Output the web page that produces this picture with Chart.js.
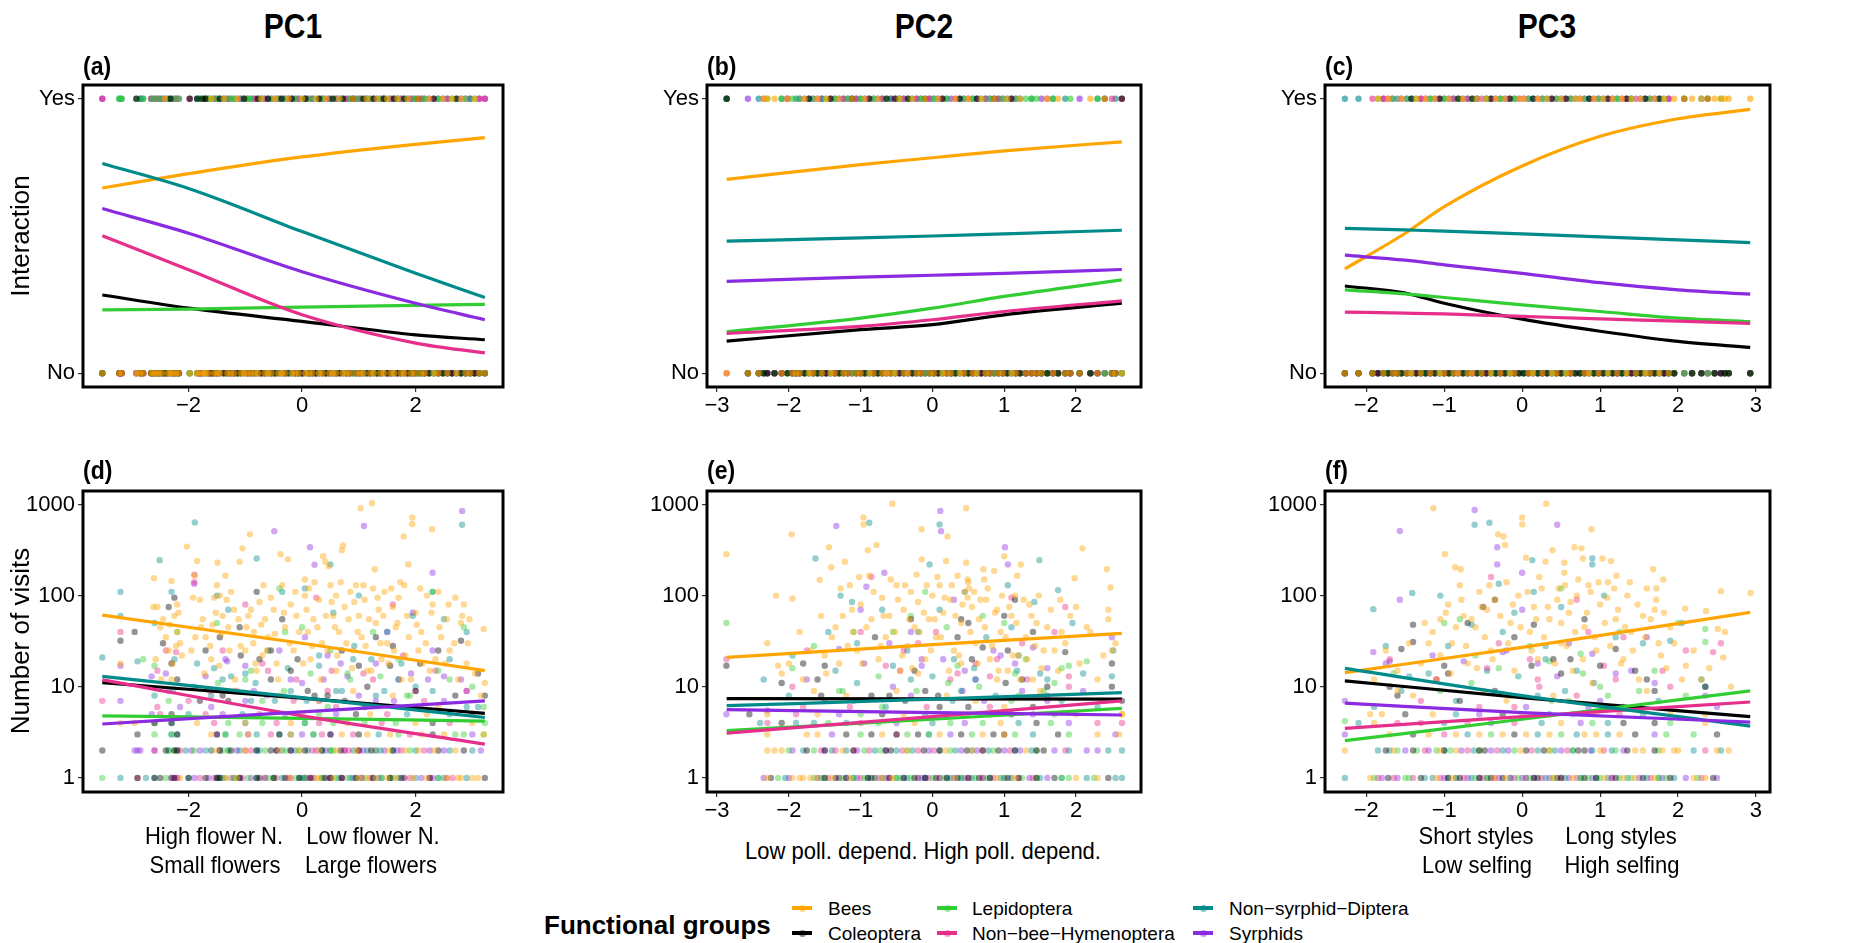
<!DOCTYPE html>
<html><head><meta charset="utf-8">
<script src="https://cdn.jsdelivr.net/npm/chart.js@4.4.1/dist/chart.umd.min.js"></script>
<style>
body{margin:0;width:1854px;height:943px;background:#fff;position:relative;overflow:hidden;font-family:"Liberation Sans",Arial,sans-serif;}
canvas{position:absolute;}
.t{position:absolute;white-space:nowrap;color:#000;line-height:1;}
.c{transform:translate(-50%,-50%);}
.l{transform:translate(0,-50%);}
.b{font-weight:bold;}
.key{position:absolute;height:4px;width:20px;}
.dot{position:absolute;width:7px;height:7px;border-radius:50%;}
</style></head><body>
<canvas id="ca"></canvas><canvas id="cb"></canvas><canvas id="cc"></canvas>
<canvas id="cd"></canvas><canvas id="ce"></canvas><canvas id="cf"></canvas>
<script>
// ---------------- DATA ----------------
const GROUPS = ["Bees","Coleoptera","Lepidoptera","Non\u2212bee\u2212Hymenoptera","Non\u2212syrphid\u2212Diptera","Syrphids"];
const COLORS = ["#FFA500","#000000","#32CD32","#E62E8B","#008B8B","#8A2BE2"];
const TITLES = ["PC1","PC2","PC3"];
const LETTERS = ["(a)","(b)","(c)","(d)","(e)","(f)"];
const xTicksPC1 = [-2,0,2];
const xTicksPC2 = [-3,-2,-1,0,1,2];
const xTicksPC3 = [-2,-1,0,1,2,3];
const yTicksTop = [0,1];
const yTickLabelsTop = ["No","Yes"];
const yTicksBottom = [1,10,100,1000];

// fitted curves (probability of interaction)
const curveXa = [-3.52,-2,0,2,3.22];
const linesA = [
 [0.675,0.727,0.788,0.834,0.858],
 [0.285,0.237,0.189,0.140,0.122],
 [0.231,0.234,0.241,0.247,0.251],
 [0.501,0.377,0.213,0.110,0.074],
 [0.764,0.673,0.516,0.364,0.276],
 [0.600,0.510,0.370,0.255,0.195]];
const curveXb = [-2.866,-1,0,1,2.638];
const linesB = [
 [0.706,0.760,0.785,0.810,0.843],
 [0.117,0.159,0.177,0.213,0.255],
 [0.151,0.201,0.237,0.280,0.340],
 [0.145,0.171,0.195,0.225,0.264],
 [0.481,0.493,0.500,0.508,0.521],
 [0.335,0.350,0.357,0.364,0.378]];
const curveXc = [-2.275,-1.5,-1,0,1,2,2.926];
const linesC = [
 [0.380,0.510,0.607,0.755,0.863,0.927,0.961],
 [0.318,0.292,0.255,0.197,0.153,0.116,0.094],
 [0.304,0.289,0.276,0.249,0.225,0.201,0.188],
 [0.223,0.219,0.216,0.207,0.198,0.190,0.182],
 [0.528,0.522,0.518,0.508,0.497,0.486,0.476],
 [0.430,0.412,0.395,0.364,0.330,0.304,0.288]];
// fitted lines (number of visits)
const curveXd = [-3.52,0,3.22];
const linesD = [[61,30,15],[11.1,7.5,5.1],[4.8,4.5,4.2],[11.9,4.8,2.35],[13,7.6,4.6],[3.9,5.3,7.0]];
const curveXe = [-2.866,0,2.638];
const linesE = [[21,29,38.6],[7.4,7.35,7.3],[3.3,4.4,5.8],[3.1,4.7,7.0],[6.2,7.3,8.6],[5.6,5.2,4.9]];
const curveXf = [-2.275,0,2.926];
const linesF = [[14.3,27,65.6],[11.6,7.6,4.7],[2.56,4.4,9.0],[3.5,4.7,6.8],[15.9,8.0,3.7],[6.6,5.2,4.1]];

// top rows: [x, groups with interaction "Yes"]; remaining groups are "No"
const topA = [[-3.52,"35"],[-3.22,"24"],[-3.18,"42"],[-2.92,"12"],[-2.85,"54"],[-2.8,"24"],[-2.66,"34"],[-2.62,"24"],[-2.57,"53"],[-2.52,"52"],[-2.47,"45"],[-2.42,"03"],[-2.37,"24"],[-2.32,"51"],[-2.27,"42"],[-2.22,"35"],[-2.17,"52"],[-1.98,"31"],[-1.85,"14"],[-1.8,"24"],[-1.75,"12"],[-1.7,"413"],[-1.65,"24"],[-1.6,"02"],[-1.55,"35"],[-1.5,"24"],[-1.45,"14"],[-1.38,"025"],[-1.32,"43"],[-1.26,"52"],[-1.2,"24"],[-1.14,"03"],[-1.08,"45"],[-1.02,"123"],[-0.96,"52"],[-0.9,"24"],[-0.84,"35"],[-0.78,"14"],[-0.72,"025"],[-0.66,"43"],[-0.6,"51"],[-0.54,"24"],[-0.48,"03"],[-0.42,"352"],[-0.36,"14"],[-0.3,"25"],[-0.24,"043"],[-0.18,"51"],[-0.12,"24"],[-0.06,"35"],[0.0,"02"],[0.06,"145"],[0.12,"23"],[0.18,"54"],[0.24,"02"],[0.3,"31"],[0.36,"245"],[0.42,"03"],[0.48,"54"],[0.54,"12"],[0.6,"34"],[0.66,"025"],[0.72,"41"],[0.78,"35"],[0.84,"24"],[0.9,"013"],[0.96,"52"],[1.02,"34"],[1.08,"21"],[1.14,"045"],[1.2,"23"],[1.26,"51"],[1.32,"04"],[1.38,"32"],[1.44,"145"],[1.5,"02"],[1.56,"34"],[1.62,"51"],[1.68,"024"],[1.74,"35"],[1.8,"12"],[1.86,"04"],[1.92,"53"],[1.98,"24"],[2.04,"01"],[2.1,"35"],[2.16,"42"],[2.24,"05"],[2.32,"13"],[2.4,"24"],[2.48,"50"],[2.56,"34"],[2.64,"02"],[2.72,"41"],[2.8,"05"],[2.88,"23"],[2.96,"54"],[3.04,"02"],[3.12,"35"],[3.22,"35"]];
const topB = [[-2.866,"1245"],[-2.57,"5"],[-2.42,"4"],[-2.35,"03"],[-2.3,"02"],[-2.2,"0"],[-2.1,"24"],[-2.02,"035"],[-1.95,"2"],[-1.9,"4"],[-1.85,"25"],[-1.78,"03"],[-1.72,"14"],[-1.66,"25"],[-1.6,"03"],[-1.54,"54"],[-1.48,"02"],[-1.42,"31"],[-1.36,"24"],[-1.3,"05"],[-1.24,"43"],[-1.18,"25"],[-1.12,"014"],[-1.06,"35"],[-1.0,"24"],[-0.94,"05"],[-0.88,"13"],[-0.82,"42"],[-0.76,"05"],[-0.7,"34"],[-0.64,"12"],[-0.58,"45"],[-0.52,"13"],[-0.46,"024"],[-0.4,"35"],[-0.34,"12"],[-0.28,"40"],[-0.22,"53"],[-0.16,"24"],[-0.1,"01"],[-0.04,"35"],[0.02,"42"],[0.08,"05"],[0.14,"13"],[0.2,"24"],[0.26,"5"],[0.32,"03"],[0.38,"14"],[0.44,"25"],[0.5,"03"],[0.56,"24"],[0.62,"15"],[0.68,"02"],[0.74,"34"],[0.8,"25"],[0.86,"01"],[0.92,"43"],[0.98,"25"],[1.04,"04"],[1.1,"13"],[1.16,"25"],[1.22,"04"],[1.3,"2"],[1.38,"24"],[1.45,"2"],[1.52,"5"],[1.6,"03"],[1.68,"24"],[1.75,"0"],[1.85,"4"],[1.92,"2"],[2.05,"5"],[2.2,"0"],[2.3,"24"],[2.4,"01"],[2.5,"3"],[2.55,"4"],[2.638,"13"]];
const topC = [[-2.275,"4"],[-2.1,"4"],[-1.92,"3"],[-1.85,"02"],[-1.78,"35"],[-1.72,"03"],[-1.66,"25"],[-1.6,"4"],[-1.55,"03"],[-1.48,"25"],[-1.42,"14"],[-1.36,"02"],[-1.3,"35"],[-1.24,"03"],[-1.18,"24"],[-1.12,"05"],[-1.06,"13"],[-1.0,"24"],[-0.94,"05"],[-0.88,"34"],[-0.82,"12"],[-0.76,"05"],[-0.7,"34"],[-0.64,"12"],[-0.58,"045"],[-0.52,"3"],[-0.46,"024"],[-0.4,"15"],[-0.34,"03"],[-0.28,"24"],[-0.22,"05"],[-0.16,"13"],[-0.1,"24"],[-0.04,"05"],[0.02,"03"],[0.08,"25"],[0.14,"14"],[0.2,"03"],[0.26,"25"],[0.32,"04"],[0.38,"13"],[0.44,"25"],[0.5,"04"],[0.56,"13"],[0.62,"25"],[0.68,"04"],[0.74,"03"],[0.8,"25"],[0.86,"14"],[0.92,"03"],[0.98,"25"],[1.04,"04"],[1.1,"13"],[1.16,"05"],[1.22,"24"],[1.28,"03"],[1.34,"15"],[1.4,"024"],[1.46,"3"],[1.52,"05"],[1.58,"14"],[1.64,"23"],[1.7,"05"],[1.76,"14"],[1.82,"02"],[1.88,"35"],[1.95,"0"],[2.08,"01"],[2.18,"0"],[2.3,"04"],[2.38,"01"],[2.47,"0"],[2.55,"02"],[2.6,"0"],[2.65,"0"],[2.926,"0"]];

// bottom scatter: [x, visits, group]
const ptsD = [[-2.61,155,0],[-2.55,75,0],[-2.5,45,0],[-2.45,55,0],[-2.35,25,0],[-2.3,145,0],[-2.25,60,0],[-2.2,80,0],[-2.2,40,0],[-2.15,30,0],[-2.03,345,0],[-1.95,25,0],[-1.89,165,0],[-1.85,240,0],[-1.8,90,0],[-1.75,55,0],[-1.7,35,0],[-1.6,20,0],[-1.55,95,0],[-1.5,130,0],[-1.49,230,0],[-1.45,100,0],[-1.4,60,0],[-1.35,165,0],[-1.3,45,0],[-1.25,110,0],[-1.2,70,0],[-1.1,235,0],[-1.05,330,0],[-1.0,25,0],[-0.95,60,0],[-0.92,470,0],[-0.85,40,0],[-0.8,15,0],[-0.75,85,0],[-0.7,22,0],[-0.65,55,0],[-0.6,35,0],[-0.5,70,0],[-0.45,18,0],[-0.38,285,0],[-0.35,130,0],[-0.3,45,0],[-0.25,250,0],[-0.2,80,0],[-0.15,25,0],[-0.1,60,0],[0.05,150,0],[0.05,100,0],[0.1,40,0],[0.12,120,0],[0.15,20,0],[0.2,55,0],[0.3,90,0],[0.35,30,0],[0.37,270,0],[0.41,235,0],[0.47,210,0],[0.5,130,0],[0.55,60,0],[0.6,15,0],[0.6,100,0],[0.65,40,0],[0.7,315,0],[0.72,355,0],[0.75,75,0],[0.85,110,0],[0.9,25,0],[0.95,130,0],[1.0,60,0],[1.03,910,0],[1.05,35,0],[1.1,90,0],[1.15,15,0],[1.23,1030,0],[1.25,120,0],[1.28,195,0],[1.3,50,0],[1.35,70,0],[1.4,20,0],[1.45,110,0],[1.5,30,0],[1.6,75,0],[1.65,45,0],[1.7,95,0],[1.75,12,0],[1.79,445,0],[1.8,130,0],[1.85,60,0],[1.87,220,0],[1.94,720,0],[1.94,610,0],[2.0,65,0],[2.05,25,0],[2.1,40,0],[2.2,100,0],[2.25,15,0],[2.29,535,0],[2.3,80,0],[2.4,110,0],[2.45,35,0],[2.55,55,0],[2.6,25,0],[2.7,95,0],[2.8,50,0],[2.85,80,0],[2.9,18,0],[2.95,55,0],[3.2,43,0],[3.22,11,0],[-2.3,12,0],[-1.2,9,0],[-0.4,8,0],[0.3,7,0],[0.9,9,0],[1.6,8,0],[2.4,6,0],[-3.2,18,0],
[-3.52,21,4],[-3.2,110,4],[-3.2,60,4],[-2.9,19,4],[-2.6,50,4],[-2.51,245,4],[-2.3,110,4],[-2.25,20,4],[-1.89,635,4],[-1.85,18,4],[-1.5,100,4],[-1.4,12,4],[-1.3,70,4],[-1.0,14,4],[-0.8,255,4],[-0.6,25,4],[-0.35,110,4],[-0.2,9,4],[0.05,120,4],[0.3,17,4],[0.5,220,4],[0.55,65,4],[0.9,20,4],[1.0,100,4],[1.3,8,4],[1.5,40,4],[1.75,18,4],[1.95,60,4],[2.3,110,4],[2.5,55,4],[2.82,600,4],[2.9,40,4],[3.1,6,4],[-1.6,8,4],[-0.9,7,4],[0.7,9,4],
[-3.2,32,1],[-2.95,40,1],[-2.45,30,1],[-2.35,75,1],[-2.25,95,1],[-2.2,12,1],[-1.7,25,1],[-1.45,35,1],[-1.1,45,1],[-0.8,110,1],[-0.75,20,1],[-0.55,25,1],[-0.35,55,1],[-0.2,15,1],[0.1,9,1],[0.45,8,1],[0.7,25,1],[1.0,17,1],[1.3,35,1],[1.6,28,1],[2.0,9,1],[2.4,25,1],[2.8,32,1],[3.22,8,1],[-1.3,7,1],[1.1,6,1],
[-2.8,20,2],[-2.6,17,2],[-2.2,40,2],[-1.5,50,2],[-1.0,12,2],[-0.4,120,2],[-0.3,40,2],[0.0,45,2],[0.5,25,2],[0.8,14,2],[1.25,40,2],[1.7,20,2],[2.3,110,2],[2.6,12,2],[2.85,45,2],[3.2,6,2],[-0.7,7,2],[1.9,8,2],
[-3.52,7,3],[-3.2,40,3],[-2.55,15,3],[-2.4,25,3],[-1.9,140,3],[-1.9,170,3],[-1.4,25,3],[-1.0,80,3],[-0.6,15,3],[-0.1,12,3],[0.25,95,3],[0.45,9,3],[1.25,12,3],[1.6,80,3],[2.0,9,3],[2.35,15,3],[2.9,9,3],[-2.0,7,3],[0.6,6,3],
[-3.2,17,5],[-3.2,7,5],[-2.65,13,5],[-2.35,9,5],[-1.9,135,5],[-1.35,20,5],[-1.0,17,5],[-0.85,9,5],[-0.49,510,5],[-0.2,12,5],[0.05,35,5],[0.14,340,5],[0.22,218,5],[0.45,22,5],[0.8,13,5],[1.09,580,5],[1.3,18,5],[1.5,40,5],[1.7,12,5],[1.95,65,5],[2.3,178,5],[2.3,25,5],[2.5,13,5],[2.82,850,5],[2.9,9,5],[-1.6,6,5],[0.3,7,5]];
const ptsD2 = [[-2.62,75,0],[-2.58,20,0],[-2.48,12,0],[-2.4,35,0],[-2.33,48,0],[-2.28,18,0],[-2.22,28,0],[-2.18,65,0],[-2.12,22,0],[-1.92,95,0],[-1.88,35,0],[-1.78,45,0],[-1.72,14,0],[-1.62,28,0],[-1.58,48,0],[-1.52,65,0],[-1.46,17,0],[-1.42,38,0],[-1.33,90,0],[-1.28,25,0],[-1.18,12,0],[-1.12,55,0],[-1.08,28,0],[-0.98,45,0],[-0.9,70,0],[-0.86,30,0],[-0.82,18,0],[-0.72,48,0],[-0.68,130,0],[-0.62,25,0],[-0.55,95,0],[-0.48,38,0],[-0.42,12,0],[-0.32,65,0],[-0.22,30,0],[-0.12,110,0],[-0.05,40,0],[0.02,18,0],[0.08,70,0],[0.18,28,0],[0.22,140,0],[0.27,45,0],[0.33,12,0],[0.42,60,0],[0.45,25,0],[0.52,85,0],[0.58,45,0],[0.62,22,0],[0.68,140,0],[0.78,30,0],[0.82,55,0],[0.88,16,0],[0.92,85,0],[0.98,40,0],[1.08,130,0],[1.12,28,0],[1.18,55,0],[1.22,15,0],[1.33,95,0],[1.38,30,0],[1.43,60,0],[1.52,18,0],[1.57,120,0],[1.62,25,0],[1.68,50,0],[1.73,140,0],[1.82,22,0],[1.88,35,0],[1.92,12,0],[2.02,48,0],[2.08,120,0],[2.12,18,0],[2.18,30,0],[2.28,65,0],[2.35,20,0],[2.42,45,0],[2.52,18,0],[2.58,80,0],[2.68,30,0],[2.75,12,0],[2.82,60,0],[2.92,30,0],[3.05,14,0],[3.15,8,0],
[-2.6,8,4],[-2.55,6,3],[-2.4,14,5],[-2.35,7,2],[-2.3,18,1],[-2.28,9,4],[-2.22,24,3],[-2.15,6,5],[-1.9,10,4],[-1.8,7,1],[-1.7,13,5],[-1.62,9,3],[-1.55,16,4],[-1.48,11,2],[-1.4,8,1],[-1.32,19,5],[-1.25,13,4],[-1.15,9,3],[-1.08,22,1],[-1.0,7,5],[-0.9,15,2],[-0.82,11,4],[-0.7,18,3],[-0.62,8,5],[-0.55,12,1],[-0.48,7,4],[-0.4,25,5],[-0.32,9,2],[-0.25,16,4],[-0.15,7,3],[-0.08,20,1],[0.0,11,5],[0.08,7,4],[0.15,14,2],[0.22,8,1],[0.3,22,4],[0.38,12,5],[0.45,6,2],[0.52,15,3],[0.6,9,4],[0.68,18,5],[0.75,7,1],[0.85,12,2],[0.92,28,4],[1.0,8,5],[1.08,14,3],[1.15,10,1],[1.22,20,4],[1.3,7,5],[1.38,13,2],[1.45,9,4],[1.55,17,1],[1.62,7,5],[1.7,12,4],[1.78,22,3],[1.85,8,2],[1.92,14,5],[2.0,10,4],[2.08,18,1],[2.15,7,3],[2.22,12,5],[2.3,9,4],[2.4,15,2],[2.5,7,5],[2.6,20,4],[2.7,8,1],[2.8,12,5],[2.9,6,4],[3.0,10,2],[3.1,14,1]];
const rowsD1 = [[-3.52,"2"],[-3.2,"4"],[-2.9,"13"],[-2.75,"4"],[-2.6,"14"],[-2.5,"1"],[-2.3,"345"],[-2.25,"15"],[-2.2,"35"],[-2.0,"14"],[-1.8,"3"],[-1.65,"5"],[-1.5,"145"],[-1.45,"124"],[-1.35,"02"],[-1.2,"24"],[-1.1,"145"],[-0.95,"2"],[-0.8,"14"],[-0.65,"35"],[-0.5,"124"],[-0.35,"4"],[-0.2,"05"],[-0.05,"14"],[0.05,"245"],[0.15,"13"],[0.3,"0"],[0.35,"24"],[0.5,"145"],[0.6,"2"],[0.7,"135"],[0.85,"4"],[0.95,"12"],[1.05,"35"],[1.15,"0"],[1.25,"14"],[1.4,"24"],[1.55,"125"],[1.7,"4"],[1.8,"34"],[1.95,"0"],[2.1,"5"],[2.25,"13"],[2.4,"24"],[2.55,"30"],[2.75,"0"],[2.9,"4"],[3.0,"0"],[3.22,"1"]];
const rowsD1b = [[-2.4,"2"],[-2.15,"0"],[-1.9,"5"],[-1.7,"1"],[-1.55,"3"],[-1.4,"5"],[-1.25,"3"],[-1.15,"0"],[-1.05,"3"],[-0.9,"5"],[-0.75,"1"],[-0.6,"2"],[-0.45,"3"],[-0.3,"1"],[-0.25,"3"],[-0.1,"2"],[0.0,"4"],[0.1,"3"],[0.2,"5"],[0.25,"0"],[0.4,"1"],[0.45,"3"],[0.55,"0"],[0.65,"4"],[0.8,"2"],[0.9,"5"],[1.0,"0"],[1.1,"2"],[1.2,"3"],[1.3,"0"],[1.35,"5"],[1.5,"0"],[1.6,"2"],[1.65,"0"],[1.75,"1"],[1.9,"3"],[2.0,"4"],[2.2,"0"],[2.3,"5"],[2.5,"4"],[2.65,"3"],[2.8,"0"],[3.1,"0"]];
const rowsD2 = [[-3.52,"1"],[-2.95,"5"],[-2.9,"5"],[-2.85,"5"],[-2.6,"35"],[-2.35,"24"],[-2.25,"12"],[-2.2,"14"],[-2.05,"4"],[-1.95,"5"],[-1.8,"5"],[-1.6,"25"],[-1.45,"15"],[-1.3,"24"],[-1.15,"5"],[-1.0,"30"],[-0.8,"14"],[-0.65,"2"],[-0.45,"15"],[-0.35,"4"],[-0.2,"15"],[-0.05,"02"],[0.1,"4"],[0.25,"5"],[0.35,"14"],[0.5,"24"],[0.6,"0"],[0.75,"35"],[0.9,"4"],[1.0,"13"],[1.15,"4"],[1.3,"25"],[1.45,"5"],[1.6,"14"],[1.75,"3"],[1.9,"2"],[2.05,"0"],[2.25,"5"],[2.4,"1"],[2.6,"4"],[2.85,"1"],[3.15,"5"]];
const rowsD2b = [[-2.4,"1"],[-2.15,"3"],[-1.9,"2"],[-1.7,"4"],[-1.5,"0"],[-1.4,"2"],[-1.25,"1"],[-1.1,"4"],[-0.9,"3"],[-0.75,"4"],[-0.55,"1"],[-0.4,"0"],[-0.28,"2"],[-0.12,"4"],[0.05,"1"],[0.18,"3"],[0.3,"0"],[0.42,"5"],[0.55,"2"],[0.68,"1"],[0.82,"3"],[0.95,"0"],[1.08,"5"],[1.22,"1"],[1.38,"4"],[1.52,"0"],[1.68,"5"],[1.82,"0"],[2.0,"4"],[2.15,"3"],[2.32,"0"],[2.5,"5"],[2.7,"0"],[3.0,"4"]];
const rowsD3 = [[-2.9,"1"],[-2.6,"2"],[-2.3,"24"],[-2.2,"14"],[-1.6,"0"],[-1.5,"15"],[-1.35,"24"],[-1.1,"2"],[-0.95,"05"],[-0.8,"4"],[-0.55,"3"],[-0.4,"14"],[-0.2,"04"],[0.0,"5"],[0.2,"24"],[0.35,"3"],[0.5,"15"],[0.7,"0"],[0.9,"3"],[1.0,"1"],[1.15,"0"],[1.35,"4"],[1.55,"0"],[1.7,"2"],[1.9,"3"],[2.1,"0"],[2.3,"1"],[2.5,"0"],[2.7,"2"],[2.85,"2"],[3.0,"5"],[3.2,"02"]];
const rowsD4 = [[-3.2,"0"],[-2.95,"0"],[-2.6,"12"],[-2.3,"14"],[-1.85,"0"],[-1.55,"3"],[-1.3,"2"],[-1.0,"04"],[-0.7,"2"],[-0.45,"3"],[-0.2,"0"],[0.05,"24"],[0.3,"3"],[0.55,"2"],[0.8,"0"],[1.1,"2"],[1.4,"3"],[1.65,"2"],[2.0,"0"],[2.3,"1"],[2.6,"3"],[3.0,"0"],[3.22,"2"]];
const rowsD5 = [[-2.65,"5"],[-2.5,"3"],[-2.3,"1"],[-2.0,"4"],[-1.7,"3"],[-1.4,"5"],[-1.05,"4"],[-0.75,"3"],[-0.3,"5"],[0.0,"0"],[0.3,"2"],[0.6,"5"],[0.95,"1"],[1.2,"0"],[1.5,"3"],[1.85,"4"],[2.2,"0"],[2.6,"4"],[3.0,"1"]];

const ptsE = [[-2.87,285,0],[-2.18,100,0],[-2.15,17,0],[-2.1,14,0],[-1.96,470,0],[-1.95,93,0],[-1.8,12,0],[-1.65,9,0],[-1.57,149,0],[-1.5,22,0],[-1.44,340,0],[-1.41,205,0],[-1.4,35,0],[-1.3,18,0],[-1.25,60,0],[-1.22,235,0],[-1.15,130,0],[-1.1,40,0],[-1.05,25,0],[-1.0,80,0],[-0.96,720,0],[-0.96,605,0],[-0.9,315,0],[-0.88,165,0],[-0.85,55,0],[-0.78,360,0],[-0.75,20,0],[-0.7,95,0],[-0.65,35,0],[-0.6,60,0],[-0.56,1020,0],[-0.5,130,0],[-0.45,15,0],[-0.4,70,0],[-0.35,28,0],[-0.3,110,0],[-0.25,45,0],[-0.2,85,0],[-0.15,535,0],[-0.15,250,0],[-0.1,20,0],[-0.05,55,0],[0.0,100,0],[0.05,35,0],[0.1,130,0],[0.15,65,0],[0.19,240,0],[0.21,445,0],[0.25,90,0],[0.3,25,0],[0.35,165,0],[0.4,50,0],[0.45,110,0],[0.47,910,0],[0.47,230,0],[0.5,140,0],[0.51,120,0],[0.55,75,0],[0.6,30,0],[0.65,55,0],[0.71,195,0],[0.72,150,0],[0.75,90,0],[0.8,20,0],[0.86,187,0],[0.9,70,0],[0.95,40,0],[1.0,270,0],[1.05,15,0],[1.1,60,0],[1.15,100,0],[1.18,165,0],[1.23,220,0],[1.3,35,0],[1.35,80,0],[1.4,12,0],[1.45,50,0],[1.55,25,0],[1.65,70,0],[1.75,15,0],[1.8,40,0],[1.98,155,0],[2.0,75,0],[2.09,330,0],[2.15,45,0],[2.3,12,0],[2.43,195,0],[2.45,55,0],[2.48,123,0],[2.5,25,0],[2.64,5,0],[-0.5,9,0],[0.2,8,0],[0.6,7,0],[1.0,6,0],[-1.2,8,0],[1.5,9,0],[0.9,12,0],[-0.2,14,0],[0.4,18,0],[1.2,22,0],
[-2.35,12,4],[-1.95,22,4],[-1.63,255,4],[-1.45,40,4],[-1.28,100,4],[-1.12,85,4],[-1.05,30,4],[-0.88,630,4],[-0.7,70,4],[-0.55,17,4],[-0.35,25,4],[-0.2,40,4],[-0.04,220,4],[0.1,605,4],[0.1,70,4],[0.3,20,4],[0.45,110,4],[0.6,12,4],[0.75,35,4],[1.05,130,4],[1.1,45,4],[1.2,22,4],[1.42,85,4],[1.49,245,4],[1.6,12,4],[1.75,115,4],[1.95,50,4],[2.1,14,4],[2.5,13,4],[2.52,25,4],[-1.1,7,4],[0.4,9,4],
[-2.87,17,1],[-2.1,11,1],[-1.8,18,1],[-1.55,8,1],[-1.5,17,1],[-0.8,35,1],[-0.6,8,1],[-0.3,55,1],[-0.25,15,1],[-0.1,9,1],[0.35,35,1],[0.4,55,1],[0.5,50,1],[0.55,20,1],[0.7,27,1],[1.0,60,1],[1.05,25,1],[1.15,90,1],[1.25,12,1],[1.4,40,1],[1.6,10,1],[1.85,24,1],[2.5,18,1],[2.64,7,1],[0.1,6,1],
[-2.87,50,2],[-1.95,16,2],[-1.65,28,2],[-1.3,9,2],[-1.1,40,2],[-0.55,40,2],[-0.3,60,2],[-0.1,110,2],[0.2,45,2],[0.35,17,2],[0.7,60,2],[1.0,50,2],[1.15,14,2],[1.3,20,2],[1.55,9,2],[1.8,16,2],[1.9,17,2],[2.15,19,2],[-0.7,6,2],[1.2,8,2],
[-2.87,20,3],[-1.95,10,3],[-1.75,25,3],[-1.0,40,3],[-0.85,160,3],[-0.65,17,3],[-0.4,25,3],[-0.2,30,3],[0.05,40,3],[0.25,12,3],[0.6,18,3],[0.9,20,3],[1.1,95,3],[1.25,30,3],[1.7,40,3],[1.85,75,3],[1.9,10,3],[0.8,6,3],
[-2.87,5,5],[-1.75,12,5],[-1.34,580,5],[-1.3,26,5],[-1.0,70,5],[-0.92,125,5],[-0.67,178,5],[-0.6,30,5],[-0.3,40,5],[-0.15,20,5],[0.11,850,5],[0.12,510,5],[0.3,90,5],[0.45,15,5],[0.6,12,5],[0.85,25,5],[1.01,340,5],[1.05,220,5],[1.15,18,5],[1.4,27,5],[1.6,16,5],[2.5,35,5],[-0.3,8,5],[1.6,7,5]];
const ptsE2 = [[-2.3,30,0],[-2.0,18,0],[-1.85,40,0],[-1.7,25,0],[-1.55,60,0],[-1.48,14,0],[-1.35,45,0],[-1.28,120,0],[-1.18,28,0],[-1.12,70,0],[-1.02,160,0],[-0.98,18,0],[-0.92,45,0],[-0.82,110,0],[-0.72,28,0],[-0.68,60,0],[-0.58,150,0],[-0.52,40,0],[-0.48,90,0],[-0.42,22,0],[-0.38,130,0],[-0.32,55,0],[-0.28,16,0],[-0.22,170,0],[-0.18,40,0],[-0.12,65,0],[-0.08,130,0],[-0.02,25,0],[0.03,55,0],[0.07,160,0],[0.12,35,0],[0.17,95,0],[0.23,15,0],[0.27,130,0],[0.32,60,0],[0.37,22,0],[0.42,80,0],[0.49,150,0],[0.49,95,0],[0.53,40,0],[0.58,110,0],[0.63,18,0],[0.67,90,0],[0.73,45,0],[0.77,120,0],[0.83,28,0],[0.87,65,0],[0.92,15,0],[0.97,100,0],[1.02,35,0],[1.07,75,0],[1.12,22,0],[1.17,50,0],[1.22,12,0],[1.27,90,0],[1.32,20,0],[1.38,60,0],[1.43,28,0],[1.48,100,0],[1.52,16,0],[1.6,45,0],[1.7,25,0],[1.78,90,0],[1.85,30,0],[1.92,60,0],[2.05,18,0],[2.2,40,0],[2.38,22,0],[2.45,70,0],[2.55,30,0],
[-2.3,5.5,5],[-2.0,8,4],[-1.8,6,3],[-1.6,12,1],[-1.5,7,5],[-1.35,15,4],[-1.25,9,2],[-1.15,6,3],[-1.05,11,4],[-0.95,18,5],[-0.85,8,1],[-0.75,13,2],[-0.65,6,4],[-0.55,10,5],[-0.45,15,3],[-0.38,7,1],[-0.3,12,4],[-0.22,9,2],[-0.15,17,5],[-0.08,6,3],[0.0,13,4],[0.08,8,1],[0.15,20,5],[0.22,11,2],[0.28,7,4],[0.35,14,3],[0.42,9,5],[0.5,6,1],[0.58,16,4],[0.65,10,2],[0.72,7,5],[0.8,13,3],[0.88,8,4],[0.95,22,5],[1.02,11,1],[1.1,7,2],[1.18,15,4],[1.25,9,5],[1.32,12,3],[1.4,6,1],[1.5,14,4],[1.6,8,5],[1.7,11,2],[1.8,7,4],[1.9,13,3],[2.1,9,5],[2.3,6,4],[2.5,10,1]];
const rowsE1 = [[-2.35,"5"],[-2.25,"1"],[-2.15,"2"],[-2.05,"4"],[-1.95,"0"],[-1.8,"0"],[-1.7,"0"],[-1.6,"05"],[-1.5,"12"],[-1.4,"0"],[-1.3,"34"],[-1.2,"15"],[-1.1,"24"],[-1.0,"3"],[-0.9,"14"],[-0.8,"25"],[-0.7,"04"],[-0.6,"13"],[-0.5,"24"],[-0.4,"15"],[-0.3,"2"],[-0.2,"34"],[-0.1,"145"],[0.0,"2"],[0.1,"35"],[0.2,"14"],[0.3,"05"],[0.4,"24"],[0.5,"13"],[0.6,"2"],[0.7,"35"],[0.8,"14"],[0.9,"0"],[1.0,"25"],[1.1,"4"],[1.2,"13"],[1.35,"5"],[1.45,"12"],[1.6,"5"],[1.8,"24"],[1.9,"2"],[2.15,"4"],[2.3,"0"],[2.45,"1"],[2.64,"4"]];
const rowsE1b = [[-2.3,"0"],[-2.0,"5"],[-1.85,"0"],[-1.65,"2"],[-1.55,"4"],[-1.45,"3"],[-1.35,"1"],[-1.25,"2"],[-1.15,"0"],[-1.05,"5"],[-0.95,"2"],[-0.85,"1"],[-0.75,"3"],[-0.65,"5"],[-0.55,"0"],[-0.45,"2"],[-0.35,"4"],[-0.25,"1"],[-0.15,"5"],[-0.05,"3"],[0.05,"1"],[0.15,"2"],[0.25,"4"],[0.35,"1"],[0.45,"5"],[0.55,"4"],[0.65,"1"],[0.75,"2"],[0.85,"3"],[0.95,"4"],[1.05,"1"],[1.15,"0"],[1.25,"2"],[1.4,"3"],[1.5,"4"],[1.7,"1"],[2.0,"0"],[2.25,"2"],[2.55,"4"]];
const rowsE2 = [[-2.3,"0"],[-2.2,"0"],[-2.1,"0"],[-1.95,"5"],[-1.8,"4"],[-1.65,"2"],[-1.5,"15"],[-1.35,"3"],[-1.2,"4"],[-1.1,"13"],[-0.95,"2"],[-0.8,"4"],[-0.65,"15"],[-0.5,"4"],[-0.35,"02"],[-0.2,"3"],[-0.05,"5"],[0.1,"14"],[0.25,"2"],[0.4,"5"],[0.55,"04"],[0.7,"13"],[0.85,"2"],[1.0,"5"],[1.15,"14"],[1.3,"0"],[1.45,"12"],[1.7,"5"],[1.85,"3"],[2.15,"5"],[2.45,"4"],[2.64,"4"]];
const rowsE2b = [[-2.0,"2"],[-1.75,"1"],[-1.55,"3"],[-1.4,"4"],[-1.25,"0"],[-1.05,"5"],[-0.88,"3"],[-0.72,"2"],[-0.58,"1"],[-0.42,"3"],[-0.28,"4"],[-0.12,"1"],[0.02,"3"],[0.18,"0"],[0.32,"4"],[0.48,"1"],[0.62,"5"],[0.78,"4"],[0.92,"1"],[1.08,"3"],[1.22,"5"],[1.38,"4"],[1.55,"1"],[1.9,"4"],[2.3,"5"]];
const rowsE3 = [[-2.3,"0"],[-1.75,"0"],[-1.6,"0"],[-1.4,"5"],[-1.2,"1"],[-1.0,"2"],[-0.85,"1"],[-0.7,"0"],[-0.5,"13"],[-0.35,"2"],[-0.2,"1"],[-0.05,"24"],[0.1,"0"],[0.25,"5"],[0.4,"1"],[0.55,"2"],[0.7,"0"],[0.85,"1"],[1.0,"01"],[1.15,"2"],[1.4,"4"],[1.75,"1"],[1.9,"2"],[2.3,"0"],[2.55,"5"],[2.6,"0"]];
const rowsE4 = [[-2.4,"4"],[-2.3,"3"],[-2.1,"1"],[-1.9,"4"],[-1.65,"4"],[-1.45,"2"],[-1.2,"4"],[-1.0,"3"],[-0.75,"2"],[-0.5,"5"],[-0.25,"0"],[0.0,"4"],[0.25,"2"],[0.45,"5"],[0.7,"2"],[0.95,"0"],[1.2,"4"],[1.45,"1"],[1.65,"2"],[1.9,"5"],[2.3,"3"],[2.64,"3"]];
const rowsE5 = [[-2.55,"1"],[-2.3,"0"],[-1.9,"3"],[-1.6,"0"],[-1.3,"5"],[-1.0,"2"],[-0.7,"1"],[-0.4,"0"],[-0.1,"4"],[0.2,"3"],[0.5,"0"],[0.8,"5"],[1.1,"1"],[1.4,"5"],[1.7,"2"],[2.0,"0"],[2.64,"0"]];

const ptsF = [[-1.14,910,0],[-1.05,55,0],[-0.99,285,0],[-0.95,80,0],[-0.9,30,0],[-0.86,205,0],[-0.8,130,0],[-0.79,195,0],[-0.75,60,0],[-0.7,18,0],[-0.6,45,0],[-0.55,110,0],[-0.45,70,0],[-0.4,25,0],[-0.35,90,0],[-0.31,470,0],[-0.24,445,0],[-0.22,360,0],[-0.2,140,0],[-0.15,50,0],[-0.1,15,0],[-0.05,100,0],[0.0,720,0],[0.0,605,0],[0.05,260,0],[0.1,40,0],[0.15,75,0],[0.2,20,0],[0.25,120,0],[0.3,235,0],[0.31,1020,0],[0.35,55,0],[0.39,315,0],[0.45,90,0],[0.5,30,0],[0.54,230,0],[0.54,178,0],[0.55,130,0],[0.6,65,0],[0.65,15,0],[0.67,340,0],[0.7,100,0],[0.76,330,0],[0.78,255,0],[0.8,45,0],[0.85,130,0],[0.89,535,0],[0.95,25,0],[1.0,80,0],[1.03,255,0],[1.1,140,0],[1.14,240,0],[1.2,55,0],[1.21,165,0],[1.3,20,0],[1.35,100,0],[1.4,40,0],[1.5,12,0],[1.55,60,0],[1.6,120,0],[1.68,195,0],[1.7,70,0],[1.75,30,0],[1.81,150,0],[1.85,16,0],[1.9,45,0],[2.09,72,0],[2.1,17,0],[2.3,12,0],[2.36,68,0],[2.51,43,0],[2.55,112,0],[2.58,21,0],[2.93,107,0],[-1.95,5,0],[-1.6,15,0],[-1.4,8,0],[-1.25,50,0],[-1.2,30,0],[-1.1,12,0],[-0.5,9,0],[0.4,8,0],[0.9,11,0],[1.6,9,0],[-0.2,7,0],
[-1.91,71,4],[-1.75,28,4],[-1.41,107,4],[-1.2,14,4],[-1.05,100,4],[-0.95,28,4],[-0.65,48,4],[-0.61,600,4],[-0.42,630,4],[-0.3,135,4],[-0.25,40,4],[-0.1,65,4],[0.13,245,4],[0.15,110,4],[0.3,20,4],[0.5,75,4],[0.7,15,4],[0.9,257,4],[0.9,220,4],[1.05,100,4],[1.2,35,4],[1.55,30,4],[1.9,32,4],[2.05,50,4],[2.35,10,4],[-1.55,9,4],[0.2,8,4],
[-1.7,10,1],[-1.55,26,1],[-1.4,48,1],[-1.4,31,1],[-1.0,17,1],[-0.7,50,1],[-0.5,75,1],[-0.35,90,1],[-0.1,35,1],[0.15,48,1],[0.4,20,1],[0.5,14,1],[0.8,55,1],[1.2,26,1],[1.45,15,1],[1.7,9,1],[2.35,10,1],[-0.8,7,1],
[-1.65,14,2],[-1.0,50,2],[-0.8,55,2],[-0.6,22,2],[-0.3,16,2],[0.1,28,2],[0.35,19,2],[0.5,120,2],[0.75,23,2],[1.0,10,2],[1.25,40,2],[1.7,15,2],[2.0,50,2],[2.35,43,2],[2.35,31,2],[0.6,7,2],
[-1.7,20,3],[-1.1,12,3],[-0.45,16,3],[-0.4,160,3],[-0.3,30,3],[0.1,20,3],[0.2,12,3],[0.7,90,3],[0.85,40,3],[1.05,17,3],[1.3,35,3],[1.8,15,3],[2.1,25,3],[2.45,24,3],[2.55,30,3],[-0.1,6,3],
[-2.275,7,5],[-1.91,24,5],[-1.7,19,5],[-1.57,512,5],[-1.57,90,5],[-1.1,12,5],[-0.61,870,5],[-0.32,340,5],[-0.32,220,5],[-0.2,25,5],[0.0,178,5],[0.0,70,5],[0.2,18,5],[0.45,600,5],[0.6,30,5],[0.9,23,5],[1.2,14,5],[1.6,35,5],[1.7,11,5],[2.35,8,5],[1.0,7,5]];
const ptsF2 = [[-1.9,12,0],[-1.75,25,0],[-1.6,9,0],[-1.45,30,0],[-1.3,18,0],[-1.15,40,0],[-1.05,22,0],[-0.98,65,0],[-0.92,14,0],[-0.85,45,0],[-0.78,90,0],[-0.72,28,0],[-0.65,55,0],[-0.58,16,0],[-0.52,75,0],[-0.48,35,0],[-0.42,130,0],[-0.38,20,0],[-0.28,60,0],[-0.18,30,0],[-0.12,80,0],[-0.02,45,0],[0.07,110,0],[0.12,25,0],[0.18,55,0],[0.22,160,0],[0.28,35,0],[0.33,75,0],[0.42,18,0],[0.47,120,0],[0.5,50,0],[0.57,28,0],[0.62,85,0],[0.68,40,0],[0.72,150,0],[0.78,20,0],[0.83,65,0],[0.88,110,0],[0.93,35,0],[0.98,140,0],[1.06,50,0],[1.09,95,0],[1.13,28,0],[1.18,120,0],[1.23,70,0],[1.27,18,0],[1.32,45,0],[1.38,140,0],[1.42,25,0],[1.48,80,0],[1.58,35,0],[1.65,55,0],[1.72,90,0],[1.72,120,0],[1.78,22,0],[1.82,65,0],[1.95,30,0],[2.05,12,0],[2.2,25,0],[2.4,16,0],[2.6,40,0],[2.68,10,0],
[-2.275,4.2,2],[-1.9,6,4],[-1.75,18,5],[-1.6,8,1],[-1.45,13,4],[-1.3,7,3],[-1.15,22,5],[-1.05,9,2],[-0.95,14,1],[-0.85,7,4],[-0.75,19,5],[-0.65,11,2],[-0.55,6,3],[-0.45,15,4],[-0.35,9,1],[-0.25,24,5],[-0.15,8,2],[-0.05,13,4],[0.05,6,5],[0.12,17,1],[0.22,10,3],[0.3,28,4],[0.38,7,2],[0.45,13,5],[0.55,9,4],[0.62,20,1],[0.7,8,3],[0.78,14,2],[0.85,6,5],[0.92,11,4],[1.0,17,1],[1.1,8,2],[1.2,12,3],[1.3,6,4],[1.4,15,5],[1.5,9,2],[1.6,12,1],[1.75,7,4],[1.9,10,3],[2.1,8,2],[2.3,12,4],[2.5,6,5]];
const rowsF1 = [[-2.275,"4"],[-1.9,"2"],[-1.8,"5"],[-1.72,"1"],[-1.65,"3"],[-1.5,"2"],[-1.4,"3"],[-1.25,"4"],[-1.1,"0"],[-1.0,"5"],[-0.95,"14"],[-0.85,"25"],[-0.75,"3"],[-0.65,"4"],[-0.55,"15"],[-0.45,"24"],[-0.35,"03"],[-0.25,"1"],[-0.15,"45"],[-0.05,"2"],[0.05,"34"],[0.15,"15"],[0.3,"4"],[0.4,"02"],[0.5,"13"],[0.6,"5"],[0.75,"24"],[0.85,"2"],[0.95,"14"],[1.05,"0"],[1.15,"35"],[1.25,"2"],[1.35,"4"],[1.45,"0"],[1.55,"1"],[1.65,"3"],[1.75,"24"],[1.85,"2"],[1.95,"4"],[2.1,"5"],[2.2,"0"],[2.3,"3"],[2.35,"0"],[2.5,"5"]];
const rowsF1b = [[-1.95,"0"],[-1.85,"3"],[-1.6,"5"],[-1.45,"2"],[-1.3,"1"],[-1.15,"4"],[-1.05,"3"],[-0.9,"0"],[-0.8,"1"],[-0.7,"5"],[-0.6,"2"],[-0.5,"3"],[-0.4,"1"],[-0.3,"5"],[-0.2,"0"],[-0.1,"3"],[0.0,"5"],[0.1,"2"],[0.2,"1"],[0.25,"3"],[0.35,"5"],[0.45,"1"],[0.55,"4"],[0.65,"0"],[0.7,"3"],[0.8,"1"],[0.9,"5"],[1.0,"2"],[1.1,"4"],[1.2,"1"],[1.3,"0"],[1.4,"2"],[1.5,"5"],[1.6,"4"],[1.7,"0"],[1.8,"5"],[1.9,"1"],[2.25,"2"],[2.45,"1"]];
const rowsF2 = [[-2.275,"0"],[-1.75,"1"],[-1.7,"4"],[-1.6,"2"],[-1.4,"1"],[-1.25,"3"],[-1.1,"2"],[-1.0,"14"],[-0.85,"0"],[-0.7,"3"],[-0.55,"12"],[-0.4,"5"],[-0.25,"4"],[-0.1,"2"],[0.05,"1"],[0.2,"4"],[0.35,"02"],[0.5,"5"],[0.65,"24"],[0.8,"1"],[0.9,"4"],[1.05,"3"],[1.2,"2"],[1.3,"5"],[1.45,"0"],[1.7,"1"],[1.8,"0"],[1.95,"0"],[2.35,"3"],[2.55,"4"],[2.65,"0"]];
const rowsF2b = [[-1.85,"4"],[-1.65,"0"],[-1.5,"5"],[-1.35,"2"],[-1.2,"5"],[-1.05,"0"],[-0.92,"2"],[-0.78,"5"],[-0.62,"4"],[-0.48,"1"],[-0.32,"3"],[-0.18,"5"],[-0.02,"0"],[0.12,"3"],[0.28,"1"],[0.42,"4"],[0.58,"3"],[0.72,"1"],[0.88,"5"],[1.0,"0"],[1.15,"4"],[1.35,"1"],[1.55,"0"],[1.75,"2"],[2.0,"0"],[2.2,"4"],[2.5,"0"]];
const rowsF3 = [[-2.275,"5"],[-1.7,"0"],[-1.4,"1"],[-1.2,"0"],[-1.0,"3"],[-0.85,"0"],[-0.7,"4"],[-0.55,"0"],[-0.4,"2"],[-0.25,"0"],[-0.1,"1"],[0.05,"0"],[0.2,"4"],[0.35,"0"],[0.5,"2"],[0.7,"4"],[0.8,"0"],[0.95,"0"],[1.1,"4"],[1.25,"0"],[1.45,"1"],[1.7,"5"],[1.85,"2"],[2.2,"2"],[2.5,"1"]];
const rowsF4 = [[-2.1,"4"],[-1.9,"0"],[-1.6,"3"],[-1.3,"3"],[-1.0,"4"],[-0.7,"3"],[-0.4,"5"],[-0.1,"3"],[0.25,"4"],[0.5,"0"],[0.75,"5"],[0.9,"2"],[1.1,"4"],[1.3,"1"],[1.7,"1"],[1.9,"2"],[2.35,"0"]];
const rowsF5 = [[-1.8,"0"],[-1.5,"1"],[-1.15,"0"],[-0.85,"4"],[-0.55,"5"],[-0.25,"1"],[0.0,"0"],[0.35,"4"],[0.65,"2"],[0.95,"0"],[1.25,"3"],[1.55,"4"],[1.9,"0"],[2.35,"0"]];

// ---------------- LAYOUT / STYLE ----------------
const BOX = {
 a:{l:83,t:85,r:503,b:387}, b:{l:707,t:85,r:1141,b:387}, c:{l:1325,t:85,r:1770,b:387},
 d:{l:83,t:491,r:503,b:792}, e:{l:707,t:491,r:1141,b:792}, f:{l:1325,t:491,r:1770,b:792}};
const XR = {pc1:[-3.86,3.54], pc2:[-3.14,2.905], pc3:[-2.53,3.18]};
const TICKFONT = {family:"Liberation Sans", size:22};

function rgba(hex,a){const n=parseInt(hex.slice(1),16);return `rgba(${n>>16&255},${n>>8&255},${n&255},${a})`;}
function fmt(v){return v<0?'\u2212'+Math.abs(v):String(v);}

const boxPlugin = {id:'box', afterDatasetsDraw(ch){const a=ch.chartArea,c=ch.ctx;c.save();c.strokeStyle='#000';c.lineWidth=3;c.strokeRect(a.left,a.top,a.right-a.left,a.bottom-a.top);c.restore();}};

function lineSets(xs, lines){
  return lines.map((ys,g)=>({type:'scatter',showLine:true,data:xs.map((x,i)=>({x,y:ys[i]})),borderColor:COLORS[g],borderWidth:3.2,pointRadius:0,cubicInterpolationMode:'monotone',fill:false,order:6-g}));
}
function topSets(top){
  const sets=COLORS.map((c,g)=>({type:'scatter',data:[],backgroundColor:rgba(c,0.62),borderWidth:0,pointRadius:3.2,order:20}));
  top.forEach(([x,gs])=>{for(let g=0;g<6;g++){ if(gs.includes(String(g))) sets[g].data.push({x,y:1}); else sets[g].data.push({x,y:0}); }});
  return sets;
}
function bottomSets(ptLists, rows){
  const sets=COLORS.map((c,g)=>({type:'scatter',data:[],backgroundColor:rgba(c,0.42),borderWidth:0,pointRadius:3.2,order:20}));
  ptLists.forEach(pts=>pts.forEach(([x,v,g])=>sets[g].data.push({x,y:v})));
  rows.forEach(([yv,row])=>row.forEach(([x,gs])=>{for(const ch of gs) sets[+ch].data.push({x,y:yv});}));
  return sets;
}

function makeChart(id, box, xr, xt, log, datasets){
  const cv=document.getElementById(id);
  const W=box.r-box.l+92, H=box.b-box.t+50;
  cv.width=W; cv.height=H; cv.style.width=W+'px'; cv.style.height=H+'px';
  cv.style.left=(box.l-80)+'px'; cv.style.top=(box.t-10)+'px';
  const grid={drawOnChartArea:false,drawTicks:true,tickLength:5,tickColor:'#333',lineWidth:1.2};
  const yAxis = log ? {type:'logarithmic',min:0.726,max:1406,
      afterBuildTicks:s=>{s.ticks=yTicksBottom.map(v=>({value:v}));},
      ticks:{callback:v=>String(v),font:TICKFONT,color:'#000',padding:3,autoSkip:false}}
    : {type:'linear',min:-0.05,max:1.05,
      afterBuildTicks:s=>{s.ticks=yTicksTop.map(v=>({value:v}));},
      ticks:{callback:v=>yTickLabelsTop[yTicksTop.indexOf(v)],font:TICKFONT,color:'#000',padding:3,autoSkip:false}};
  Object.assign(yAxis,{grid,border:{display:false},afterFit:s=>{s.width=80;s.paddingTop=0;s.paddingBottom=0;}});
  new Chart(cv,{type:'scatter',data:{datasets},options:{
    responsive:false,animation:false,devicePixelRatio:1,
    layout:{padding:{top:10,right:12,left:0,bottom:0}},
    plugins:{legend:{display:false},tooltip:{enabled:false}},
    scales:{
      x:{type:'linear',min:xr[0],max:xr[1],grid,border:{display:false},
        afterBuildTicks:s=>{s.ticks=xt.map(v=>({value:v}));},
        afterFit:s=>{s.height=40;s.paddingLeft=0;s.paddingRight=0;},
        ticks:{callback:v=>fmt(v),font:TICKFONT,color:'#000',padding:1,maxRotation:0,autoSkip:false}},
      y:yAxis}
  },plugins:[boxPlugin]});
}

makeChart('ca',BOX.a,XR.pc1,xTicksPC1,false,[...lineSets(curveXa,linesA),...topSets(topA)]);
makeChart('cb',BOX.b,XR.pc2,xTicksPC2,false,[...lineSets(curveXb,linesB),...topSets(topB)]);
makeChart('cc',BOX.c,XR.pc3,xTicksPC3,false,[...lineSets(curveXc,linesC),...topSets(topC)]);
makeChart('cd',BOX.d,XR.pc1,xTicksPC1,true,[...lineSets(curveXd,linesD),...bottomSets([ptsD,ptsD2],[[1,rowsD1],[1,rowsD1b],[2,rowsD2],[2,rowsD2b],[3,rowsD3],[4,rowsD4],[5,rowsD5]])]);
makeChart('ce',BOX.e,XR.pc2,xTicksPC2,true,[...lineSets(curveXe,linesE),...bottomSets([ptsE,ptsE2],[[1,rowsE1],[1,rowsE1b],[2,rowsE2],[2,rowsE2b],[3,rowsE3],[4,rowsE4],[5,rowsE5]])]);
makeChart('cf',BOX.f,XR.pc3,xTicksPC3,true,[...lineSets(curveXf,linesF),...bottomSets([ptsF,ptsF2],[[1,rowsF1],[1,rowsF1b],[2,rowsF2],[2,rowsF2b],[3,rowsF3],[4,rowsF4],[5,rowsF5]])]);

// ---------------- TEXT ----------------
function txt(s,x,y,cls,style){const d=document.createElement('div');d.className='t '+cls;d.textContent=s;d.style.left=x+'px';d.style.top=y+'px';if(style)d.style.cssText+=style;document.body.appendChild(d);return d;}
const titleX=[293,924,1547];
TITLES.forEach((s,i)=>txt(s,titleX[i],26,'c b','font-size:30px;transform:translate(-50%,-50%) scaleY(1.18);'));
const letterPos=[[83,66],[707,66],[1325,66],[83,470],[707,470],[1325,470]];
LETTERS.forEach((s,i)=>txt(s,letterPos[i][0],letterPos[i][1],'l b','font-size:23px;transform:translate(0,-50%) scaleY(1.15);'));
txt("Interaction",20,236,'','font-size:26px;transform:translate(-50%,-50%) rotate(-90deg);');
txt("Number of visits",20,641,'','font-size:26px;transform:translate(-50%,-50%) rotate(-90deg);');
const XL = [["High flower N.",214,836],["Low flower N.",373,836],["Small flowers",215,865],["Large flowers",371,865],
  ["Low poll. depend. High poll. depend.",923,851],
  ["Short styles",1476,836],["Long styles",1621,836],["Low selfing",1477,865],["High selfing",1622,865]];
XL.forEach(([s,x,y])=>txt(s,x,y,'c','font-size:22px;transform:translate(-50%,-50%) scaleY(1.12);'));
// legend
txt("Functional groups",544,925,'l b','font-size:26px;');
const legCols=[[792,828],[937,972],[1193,1229]], legRows=[908,933];
GROUPS.forEach((g,i)=>{
  const col=legCols[Math.floor(i/2)], y=legRows[i%2];
  const k=document.createElement('div');k.className='key';k.style.left=col[0]+'px';k.style.top=(y-2)+'px';k.style.background=COLORS[i];document.body.appendChild(k);
  const d=document.createElement('div');d.className='dot';d.style.left=(col[0]+6.5)+'px';d.style.top=(y-3.5)+'px';d.style.background=rgba(COLORS[i],0.45);document.body.appendChild(d);
  txt(g,col[1],y,'l','font-size:19px;');
});
</script>
</body></html>
